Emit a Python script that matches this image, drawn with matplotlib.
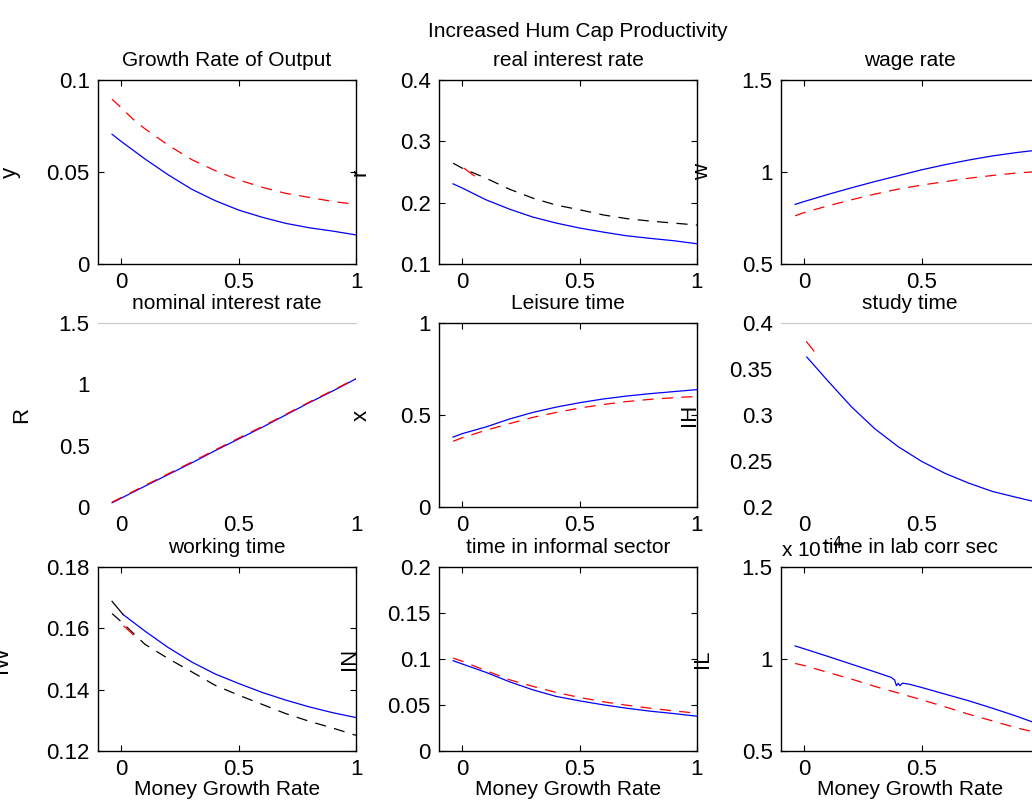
import matplotlib
matplotlib.use('Agg')
import matplotlib.pyplot as plt
from matplotlib.ticker import FormatStrFormatter

plt.rcParams['font.family'] = ['Liberation Sans', 'DejaVu Sans']
plt.rcParams['lines.scale_dashes'] = False

# money growth rate grid
mu = [-0.04, 0.0, 0.1, 0.2, 0.3, 0.4, 0.5, 0.6, 0.7, 0.8, 0.9, 1.0]

# growth rate of output
g_blue = [0.0705, 0.0665, 0.0571, 0.0484, 0.0406, 0.0344, 0.0293, 0.0254, 0.0221, 0.0197, 0.0179, 0.0158]
g_red_x = [-0.04, 0.0, 0.05, 0.1, 0.2, 0.3, 0.4, 0.5, 0.6, 0.7, 0.8, 0.9, 1.0]
g_red = [0.0895, 0.0848, 0.0786, 0.0735, 0.0645, 0.0567, 0.0507, 0.0457, 0.0417, 0.0384, 0.0362, 0.034, 0.0324]

# real interest rate
r_blue = [0.2307, 0.2237, 0.2047, 0.1895, 0.1765, 0.1667, 0.1586, 0.152, 0.146, 0.1418, 0.138, 0.133]
r_black = [0.2644, 0.256, 0.24, 0.222, 0.2074, 0.196, 0.1884, 0.18, 0.174, 0.17, 0.1667, 0.1635]
r_red_x = [0.007, 0.05]
r_red = [0.256, 0.2438]

# wage rate
w_blue = [0.824, 0.84, 0.878, 0.914, 0.948, 0.98, 1.012, 1.04, 1.065, 1.087, 1.105, 1.12]
w_red = [0.762, 0.78, 0.816, 0.849, 0.88, 0.907, 0.929, 0.948, 0.966, 0.981, 0.994, 1.003]

# nominal interest rate
R_blue = [0.035, 0.073, 0.17, 0.265, 0.36, 0.46, 0.555, 0.65, 0.75, 0.85, 0.945, 1.045]
R_red = [0.04, 0.078, 0.176, 0.272, 0.367, 0.466, 0.562, 0.656, 0.755, 0.855, 0.95, 1.048]

# leisure time
x_blue = [0.38, 0.399, 0.435, 0.478, 0.514, 0.543, 0.567, 0.587, 0.603, 0.616, 0.627, 0.638]
x_red = [0.357, 0.377, 0.417, 0.453, 0.487, 0.514, 0.538, 0.557, 0.573, 0.585, 0.594, 0.601]

# study time
ih_x = [0.01, 0.1, 0.2, 0.3, 0.4, 0.5, 0.6, 0.7, 0.8, 0.9, 1.0]
ih_blue = [0.363, 0.337, 0.309, 0.285, 0.2655, 0.2495, 0.2365, 0.226, 0.217, 0.2107, 0.2047]
ih_red_x = [0.009, 0.04]
ih_red = [0.3795, 0.3696]

# working time
iw_black_x = [-0.04, 0.007]
iw_black = [0.1688, 0.1645]
iw_x = [0.007, 0.1, 0.2, 0.3, 0.4, 0.5, 0.6, 0.7, 0.8, 0.9, 1.0]
iw_blue = [0.1645, 0.1591, 0.1537, 0.149, 0.1451, 0.142, 0.1391, 0.1366, 0.1344, 0.1325, 0.1309]
iw_dash = [0.1648, 0.1621, 0.1548, 0.1501, 0.1458, 0.1414, 0.1382, 0.1352, 0.1322, 0.1297, 0.1275, 0.1251]
iw_red_x = [0.011, 0.05]
iw_red = [0.1607, 0.1579]

# time in informal sector
in_blue = [0.0982, 0.0945, 0.0855, 0.0753, 0.0665, 0.0593, 0.0545, 0.0502, 0.0465, 0.0433, 0.0407, 0.0378]
in_red = [0.101, 0.0975, 0.0873, 0.0775, 0.0702, 0.0636, 0.0582, 0.0535, 0.0498, 0.0465, 0.0436, 0.0411]

# time in lab corr sector (x 1e-4)
il_x = [-0.04, 0.0, 0.1, 0.2, 0.3, 0.37, 0.385, 0.392, 0.40, 0.407, 0.418, 0.45, 0.5,
        0.6, 0.7, 0.8, 0.9, 1.0]
il_blue = [1.071, 1.055, 1.014, 0.972, 0.93, 0.90, 0.885, 0.855, 0.868, 0.855, 0.869, 0.862, 0.845,
           0.809, 0.773, 0.733, 0.691, 0.645]
il_red = [0.976, 0.964, 0.927, 0.891, 0.851, 0.815, 0.778, 0.74, 0.70, 0.664, 0.627, 0.597]

W, H = 1032, 801
fig = plt.figure(figsize=(W / 100, H / 100), dpi=100)

lefts = [98, 439, 781]
tops = [80, 323, 567]
AW, AH = 258, 184
FS = 15
DASH = (0, (8, 6))


def make_ax(row, col, yticks, title, ylabel, label_x, boxed=True):
    ax = fig.add_axes([lefts[col] / W, 1 - (tops[row] + AH) / H, AW / W, AH / H])
    ax.set_xlim(-0.1, 1)
    ax.set_ylim(yticks[0], yticks[-1])
    ax.set_xticks([0, 0.5, 1])
    ax.set_yticks(yticks)
    ax.xaxis.set_major_formatter(FormatStrFormatter('%g'))
    ax.yaxis.set_major_formatter(FormatStrFormatter('%g'))
    ax.tick_params(direction='in', top=True, right=True, length=4, width=0.8,
                   labelsize=FS + 1, pad=6)
    ax.set_title(title, fontsize=FS, pad=10)
    ax.set_ylabel(ylabel, fontsize=FS + 1)
    ax.yaxis.set_label_coords(label_x, 0.5)
    if boxed:
        for s in ax.spines.values():
            s.set_linewidth(1.0)
    else:
        for k in ['left', 'right', 'bottom']:
            ax.spines[k].set_visible(False)
        ax.spines['top'].set_color('#c8c8c8')
        ax.tick_params(length=0)
    if row == 2:
        ax.set_xlabel('Money Growth Rate', fontsize=FS, labelpad=0)
    return ax


lw = 0.9

ax = make_ax(0, 0, [0, 0.05, 0.1], 'Growth Rate of Output', 'y', -0.297)
ax.plot(mu, g_blue, color='blue', lw=lw)
ax.plot(g_red_x, g_red, color='red', lw=lw, linestyle=DASH)

ax = make_ax(0, 1, [0.1, 0.2, 0.3, 0.4], 'real interest rate', 'r', -0.267)
ax.plot(mu, r_blue, color='blue', lw=lw)
ax.plot(mu, r_black, color='black', lw=lw, linestyle=DASH)
ax.plot(r_red_x, r_red, color='red', lw=lw)

ax = make_ax(0, 2, [0.5, 1, 1.5], 'wage rate', 'w', -0.264)
ax.plot(mu, w_blue, color='blue', lw=lw)
ax.plot(mu, w_red, color='red', lw=lw, linestyle=DASH)

ax = make_ax(1, 0, [0, 0.5, 1, 1.5], 'nominal interest rate', 'R', -0.255, boxed=False)
ax.plot(mu, R_blue, color='blue', lw=lw)
ax.plot(mu, R_red, color='red', lw=lw, linestyle=DASH)

ax = make_ax(1, 1, [0, 0.5, 1], 'Leisure time', 'x', -0.26)
ax.plot(mu, x_blue, color='blue', lw=lw)
ax.plot(mu, x_red, color='red', lw=lw, linestyle=DASH)

ax = make_ax(1, 2, [0.2, 0.25, 0.3, 0.35, 0.4], 'study time', 'IH', -0.314, boxed=False)
ax.plot(ih_x, ih_blue, color='blue', lw=lw)
ax.plot(ih_red_x, ih_red, color='red', lw=lw)

ax = make_ax(2, 0, [0.12, 0.14, 0.16, 0.18], 'working time', 'IW', -0.335)
ax.plot(iw_black_x, iw_black, color='black', lw=lw)
ax.plot(iw_x, iw_blue, color='blue', lw=lw)
ax.plot(mu, iw_dash, color='black', lw=lw, linestyle=DASH)
ax.plot(iw_red_x, iw_red, color='red', lw=lw)

ax = make_ax(2, 1, [0, 0.05, 0.1, 0.15, 0.2], 'time in informal sector', 'IN', -0.306)
ax.plot(mu, in_blue, color='blue', lw=lw)
ax.plot(mu, in_red, color='red', lw=lw, linestyle=DASH)

ax = make_ax(2, 2, [0.5, 1, 1.5], 'time in lab corr sec', 'IL', -0.264)
ax.plot(il_x, il_blue, color='blue', lw=lw)
ax.plot(mu, il_red, color='red', lw=lw, linestyle=DASH)
ax.text(0.0, 1.03, r'x 10$^{-4}$', transform=ax.transAxes, fontsize=FS, ha='left', va='bottom')

fig.text(578 / W, 1 - 37 / H, 'Increased Hum Cap Productivity', fontsize=FS,
         ha='center', va='baseline')

fig.savefig('out.png', dpi=100)
